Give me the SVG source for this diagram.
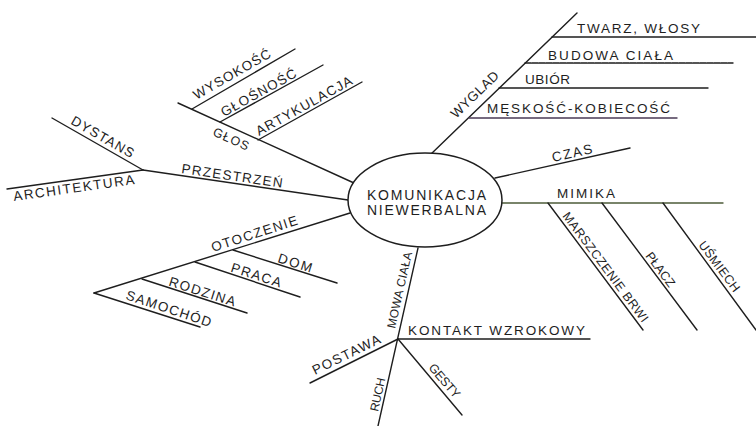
<svg xmlns="http://www.w3.org/2000/svg" width="756" height="426" viewBox="0 0 756 426">
<style>
.ln{stroke:#1e1e1e;stroke-width:1.4;fill:none;stroke-linecap:round}
.t{font-family:"Liberation Sans",Arial,sans-serif;font-size:13.5px;fill:#1e1e1e}
.s{font-size:12.5px}
.xs{font-size:12px}
.c{font-family:"Liberation Sans",Arial,sans-serif;font-size:14px;fill:#1e1e1e}
</style>
<rect width="756" height="426" fill="#ffffff"/>
<g id="connectors">
<line class="ln" x1="430" y1="155" x2="577" y2="13"/>
<line class="ln" x1="552" y1="37" x2="756" y2="37"/>
<line class="ln" x1="525" y1="63" x2="733" y2="63" stroke-dasharray="6 1"/>
<line class="ln" x1="499" y1="88" x2="708" y2="88"/>
<line class="ln" x1="469" y1="118" x2="677" y2="118" style="stroke:#4a3a55"/>
<line class="ln" x1="495" y1="178" x2="630" y2="148"/>
<line class="ln" x1="502" y1="203" x2="723" y2="203" style="stroke:#4e5c3a"/>
<line class="ln" x1="548" y1="203" x2="643" y2="330"/>
<line class="ln" x1="602" y1="203" x2="697" y2="330"/>
<line class="ln" x1="663" y1="203" x2="756" y2="330"/>
<line class="ln" x1="354" y1="183" x2="178" y2="103"/>
<line class="ln" x1="192" y1="109" x2="295" y2="49"/>
<line class="ln" x1="220" y1="122" x2="323" y2="65"/>
<line class="ln" x1="258" y1="140" x2="362" y2="82"/>
<line class="ln" x1="348" y1="200" x2="143" y2="170"/>
<line class="ln" x1="143" y1="170" x2="52" y2="118"/>
<line class="ln" x1="143" y1="170" x2="7" y2="189"/>
<line class="ln" x1="350" y1="213" x2="94" y2="293"/>
<line class="ln" x1="233" y1="250" x2="337" y2="283"/>
<line class="ln" x1="195" y1="262" x2="300" y2="297"/>
<line class="ln" x1="142" y1="279" x2="247" y2="313"/>
<line class="ln" x1="94" y1="293" x2="200" y2="327"/>
<line class="ln" x1="418" y1="248" x2="378" y2="426"/>
<line class="ln" x1="398" y1="339" x2="590" y2="339"/>
<line class="ln" x1="398" y1="339" x2="310" y2="383"/>
<line class="ln" x1="398" y1="339" x2="462" y2="415"/>
</g>
<g id="center">
<ellipse cx="425" cy="200" rx="77" ry="47" fill="#ffffff" stroke="#1e1e1e" stroke-width="1.5"/>
<text class="c" x="367" y="200" textLength="119" lengthAdjust="spacing">KOMUNIKACJA</text>
<text class="c" x="367" y="215" textLength="119" lengthAdjust="spacing">NIEWERBALNA</text>
</g>
<g id="wyglad"><text class="t" transform="translate(456,119) rotate(-44)" textLength="61" lengthAdjust="spacing">WYGLAD</text></g>
<g id="twarz"><text class="t" x="577" y="33" textLength="123" lengthAdjust="spacing">TWARZ, WŁOSY</text></g>
<g id="budowa"><text class="t" x="548" y="60" textLength="125" lengthAdjust="spacing">BUDOWA CIAŁA</text></g>
<g id="ubior"><text class="t" x="525" y="84" textLength="45" lengthAdjust="spacing">UBIÓR</text></g>
<g id="meskosc"><text class="t" x="487" y="113" textLength="183" lengthAdjust="spacing">MĘSKOŚĆ-KOBIECOŚĆ</text></g>
<g id="czas"><text class="t" transform="translate(553,162) rotate(-12.5)" textLength="41" lengthAdjust="spacing">CZAS</text></g>
<g id="mimika"><text class="t" x="557" y="198" textLength="58" lengthAdjust="spacing">MIMIKA</text></g>
<g id="marszczenie"><text class="t s" transform="translate(562,216) rotate(53.2)" textLength="134" lengthAdjust="spacing">MARSZCZENIE BRWI</text></g>
<g id="placz"><text class="t s" transform="translate(645,256) rotate(53.2)" textLength="40" lengthAdjust="spacing">PŁACZ</text></g>
<g id="usmiech"><text class="t s" transform="translate(698,245) rotate(53.2)" textLength="60" lengthAdjust="spacing">UŚMIECH</text></g>
<g id="glos"><text class="t s" transform="translate(212,135) rotate(24.5)" textLength="38" lengthAdjust="spacing">GŁOS</text></g>
<g id="wysokosc"><text class="t" transform="translate(196.5,100) rotate(-30)" textLength="87" lengthAdjust="spacing">WYSOKOŚĆ</text></g>
<g id="glosnosc"><text class="t" transform="translate(224,117) rotate(-29)" textLength="84" lengthAdjust="spacing">GŁOŚNOŚĆ</text></g>
<g id="artykulacja"><text class="t" transform="translate(259,136) rotate(-29)" textLength="108" lengthAdjust="spacing">ARTYKULACJA</text></g>
<g id="przestrzen"><text class="t" transform="translate(181,173) rotate(8.3)" textLength="102" lengthAdjust="spacing">PRZESTRZEŃ</text></g>
<g id="dystans"><text class="t" transform="translate(70,123.6) rotate(29.7)" textLength="70" lengthAdjust="spacing">DYSTANS</text></g>
<g id="architektura"><text class="t" transform="translate(14,201) rotate(-8)" textLength="122" lengthAdjust="spacing">ARCHITEKTURA</text></g>
<g id="otoczenie"><text class="t" transform="translate(213,252) rotate(-17.9)" textLength="90" lengthAdjust="spacing">OTOCZENIE</text></g>
<g id="dom"><text class="t" transform="translate(277,262) rotate(17.5)" textLength="35" lengthAdjust="spacing">DOM</text></g>
<g id="praca"><text class="t" transform="translate(230,271.5) rotate(17.8)" textLength="52" lengthAdjust="spacing">PRACA</text></g>
<g id="rodzina"><text class="t" transform="translate(168,285.5) rotate(17.6)" textLength="69" lengthAdjust="spacing">RODZINA</text></g>
<g id="samochod"><text class="t" transform="translate(125,299) rotate(18.3)" textLength="89" lengthAdjust="spacing">SAMOCHÓD</text></g>
<g id="mowa"><text class="t xs" transform="translate(395,329) rotate(-77.3)" textLength="78" lengthAdjust="spacing">MOWA CIAŁA</text></g>
<g id="kontakt"><text class="t" x="408" y="335" textLength="177" lengthAdjust="spacing">KONTAKT WZROKOWY</text></g>
<g id="postawa"><text class="t" transform="translate(315,375) rotate(-26)" textLength="74" lengthAdjust="spacing">POSTAWA</text></g>
<g id="ruch"><text class="t xs" transform="translate(378,412) rotate(-77.3)" textLength="34" lengthAdjust="spacing">RUCH</text></g>
<g id="gesty"><text class="t s" transform="translate(428,368) rotate(49.5)" textLength="41" lengthAdjust="spacing">GESTY</text></g>
</svg>
